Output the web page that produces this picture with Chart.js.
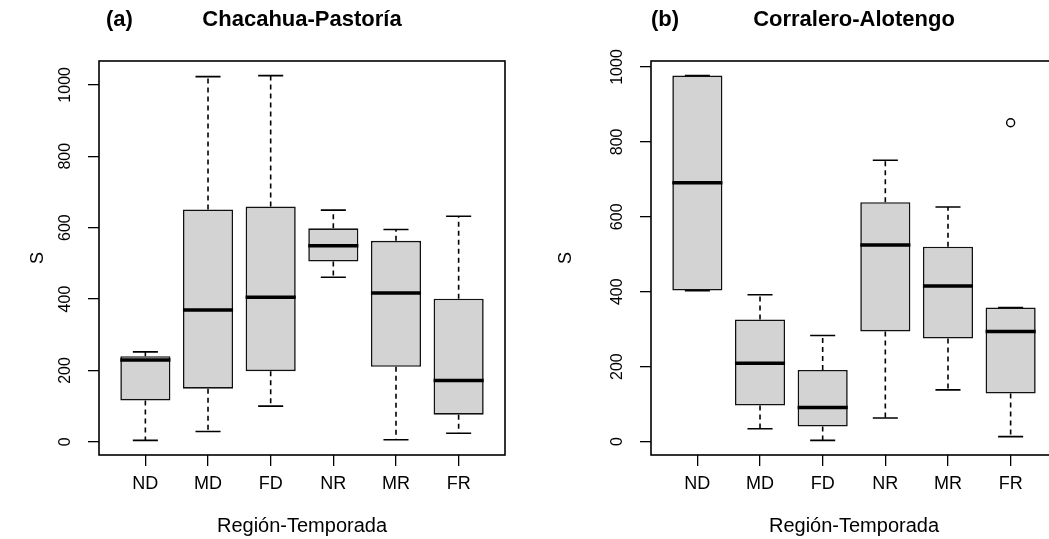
<!DOCTYPE html>
<html>
<head>
<meta charset="utf-8">
<script src="https://cdn.jsdelivr.net/npm/chart.js@4.4.1/dist/chart.umd.min.js"></script>
<style>
  html, body { margin: 0; padding: 0; background: #fff; overflow: hidden; }
  #wrap { position: relative; width: 1049px; height: 539px; overflow: hidden; }
  .panel { position: absolute; top: 0; }
  #pa { left: 0; }
  #pb { left: 525px; }
</style>
</head>
<body>
<div id="wrap">
  <div class="panel" id="pa"><canvas id="chartA" width="525" height="539"></canvas></div>
  <div class="panel" id="pb"><canvas id="chartB" width="545" height="539"></canvas></div>
</div>
<script>
/* ==========================
   Riqueza (S) por región-temporada
   ========================== */

const categories = ["ND", "MD", "FD", "NR", "MR", "FR"];
const yTicks = [0, 200, 400, 600, 800, 1000];

// (a) Chacahua-Pastoría
const lowA  = [4, 29, 100, 461, 6, 24];
const q1A   = [116, 149, 198, 505, 210, 76];
const medA  = [229, 369, 405, 549, 417, 172];
const q3A   = [240, 651, 659, 598, 563, 401];
const highA = [252, 1023, 1026, 649, 595, 632];
const outA  = [];

// (b) Corralero-Alotengo
const lowB  = [403, 34, 3, 63, 138, 13];
const q1B   = [403, 96, 40, 294, 275, 128];
const medB  = [691, 209, 91, 525, 415, 294];
const q3B   = [977, 326, 191, 639, 520, 358];
const highB = [977, 392, 283, 751, 626, 358];
const outB  = [{ x: 6, y: 851 }];

const FONT = "'Liberation Sans', Arial, Helvetica, sans-serif";
Chart.defaults.font.family = FONT;
Chart.defaults.color = "#000";

const $ = (id) => document.getElementById(id);

/* ---- whiskers, caps and medians around the bar boxes ---- */
const boxWhiskers = {
  id: "boxWhiskers",
  beforeDatasetsDraw(chart, args, o) {
    const { ctx, scales: { x, y } } = chart;
    ctx.save();
    ctx.strokeStyle = "#000";
    ctx.lineWidth = 1.6;
    o.low.forEach((lo, i) => {
      const cx = x.getPixelForValue(i + 1);
      const capL = x.getPixelForValue(i + 1 - 0.2);
      const capR = x.getPixelForValue(i + 1 + 0.2);
      // dashed whiskers
      ctx.setLineDash([5, 4]);
      ctx.beginPath();
      ctx.moveTo(cx, y.getPixelForValue(o.q1[i]));
      ctx.lineTo(cx, y.getPixelForValue(lo));
      ctx.moveTo(cx, y.getPixelForValue(o.q3[i]));
      ctx.lineTo(cx, y.getPixelForValue(o.high[i]));
      ctx.stroke();
      // caps
      ctx.setLineDash([]);
      ctx.beginPath();
      [lo, o.high[i]].forEach((v) => {
        const py = y.getPixelForValue(v);
        ctx.moveTo(capL, py);
        ctx.lineTo(capR, py);
      });
      ctx.stroke();
    });
    ctx.restore();
  },
  afterDatasetsDraw(chart, args, o) {
    const { ctx, scales: { x, y } } = chart;
    ctx.save();
    ctx.strokeStyle = "#000";
    ctx.lineWidth = 3.5;
    ctx.beginPath();
    o.med.forEach((m, i) => {
      const py = y.getPixelForValue(m);
      ctx.moveTo(x.getPixelForValue(i + 1 - 0.4), py);
      ctx.lineTo(x.getPixelForValue(i + 1 + 0.4), py);
    });
    ctx.stroke();
    ctx.restore();
  },
  afterDraw(chart) {
    const { ctx, chartArea: a } = chart;
    ctx.save();
    ctx.strokeStyle = "#000";
    ctx.lineWidth = 1.6;
    ctx.strokeRect(a.left, a.top, a.right - a.left, a.bottom - a.top);
    ctx.restore();
  }
};

/* ---- "(a)" tag + bold panel title ---- */
const panelTitle = {
  id: "panelTitle",
  afterDraw(chart, args, o) {
    const { ctx, chartArea: a } = chart;
    ctx.save();
    ctx.fillStyle = "#000";
    ctx.font = "bold 22px " + FONT;
    ctx.textBaseline = "middle";
    ctx.textAlign = "left";
    ctx.fillText(o.tag, o.tagX, 20);
    ctx.textAlign = "center";
    ctx.fillText(o.text, (a.left + a.right) / 2, 20);
    ctx.restore();
  }
};

function boxChart(id, p) {
  const all = p.low.concat(p.high, p.out.map((d) => d.y));
  const lo = Math.min(...all);
  const hi = Math.max(...all);
  const pad = (hi - lo) * 0.04;
  const n = categories.length;

  return new Chart($(id), {
    type: "bar",
    data: {
      datasets: [
        {
          data: categories.map((c, i) => ({ x: i + 1, y: [p.q1[i], p.q3[i]] })),
          backgroundColor: "#d3d3d3",
          borderColor: "#111",
          borderWidth: 1.6,
          borderSkipped: false,
          barPercentage: 0.8,
          categoryPercentage: 1
        },
        {
          type: "scatter",
          data: p.out,
          pointStyle: "circle",
          pointRadius: 4,
          pointBorderWidth: 1.4,
          pointBorderColor: "#000",
          pointBackgroundColor: "rgba(0,0,0,0)"
        }
      ]
    },
    options: {
      responsive: false,
      animation: false,
      layout: { padding: { top: 61, right: p.padRight, left: 0, bottom: 0 } },
      plugins: {
        legend: { display: false },
        tooltip: { enabled: false },
        boxWhiskers: p,
        panelTitle: { tag: p.tag, tagX: p.tagX, text: p.title }
      },
      scales: {
        x: {
          type: "linear",
          offset: false,
          min: 0.5 - n * 0.04,
          max: n + 0.5 + n * 0.04,
          afterBuildTicks: (s) => { s.ticks = categories.map((c, i) => ({ value: i + 1 })); },
          afterFit: (s) => { s.height = 84; },
          ticks: {
            callback: (v) => categories[v - 1],
            font: { size: 18 },
            padding: 7,
            maxRotation: 0,
            autoSkip: false
          },
          grid: { offset: false, drawOnChartArea: false, tickLength: 11, color: "#000", lineWidth: 1.3 },
          border: { display: false },
          title: { display: true, text: "Región-Temporada", font: { size: 20 }, padding: { top: 0, bottom: 1 } }
        },
        y: {
          min: lo - pad,
          max: hi + pad,
          afterBuildTicks: (s) => { s.ticks = yTicks.map((v) => ({ value: v })); },
          afterFit: (s) => { s.width = p.yWidth; },
          ticks: {
            callback: (v) => String(v),
            minRotation: 90,
            maxRotation: 90,
            crossAlign: "center",
            font: { size: 16 },
            padding: 5
          },
          grid: { drawOnChartArea: false, tickLength: 11, color: "#000", lineWidth: 1.3 },
          border: { display: false },
          title: { display: true, text: "S", font: { size: 18 }, padding: { top: p.sPad, bottom: 0 } }
        }
      }
    },
    plugins: [boxWhiskers, panelTitle]
  });
}

boxChart("chartA", {
  low: lowA, q1: q1A, med: medA, q3: q3A, high: highA, out: outA,
  tag: "(a)", tagX: 106, title: "Chacahua-Pastoría",
  yWidth: 99, padRight: 20, sPad: 27
});

boxChart("chartB", {
  low: lowB, q1: q1B, med: medB, q3: q3B, high: highB, out: outB,
  tag: "(b)", tagX: 126, title: "Corralero-Alotengo",
  yWidth: 126, padRight: 13, sPad: 30
});
</script>
</body>
</html>
